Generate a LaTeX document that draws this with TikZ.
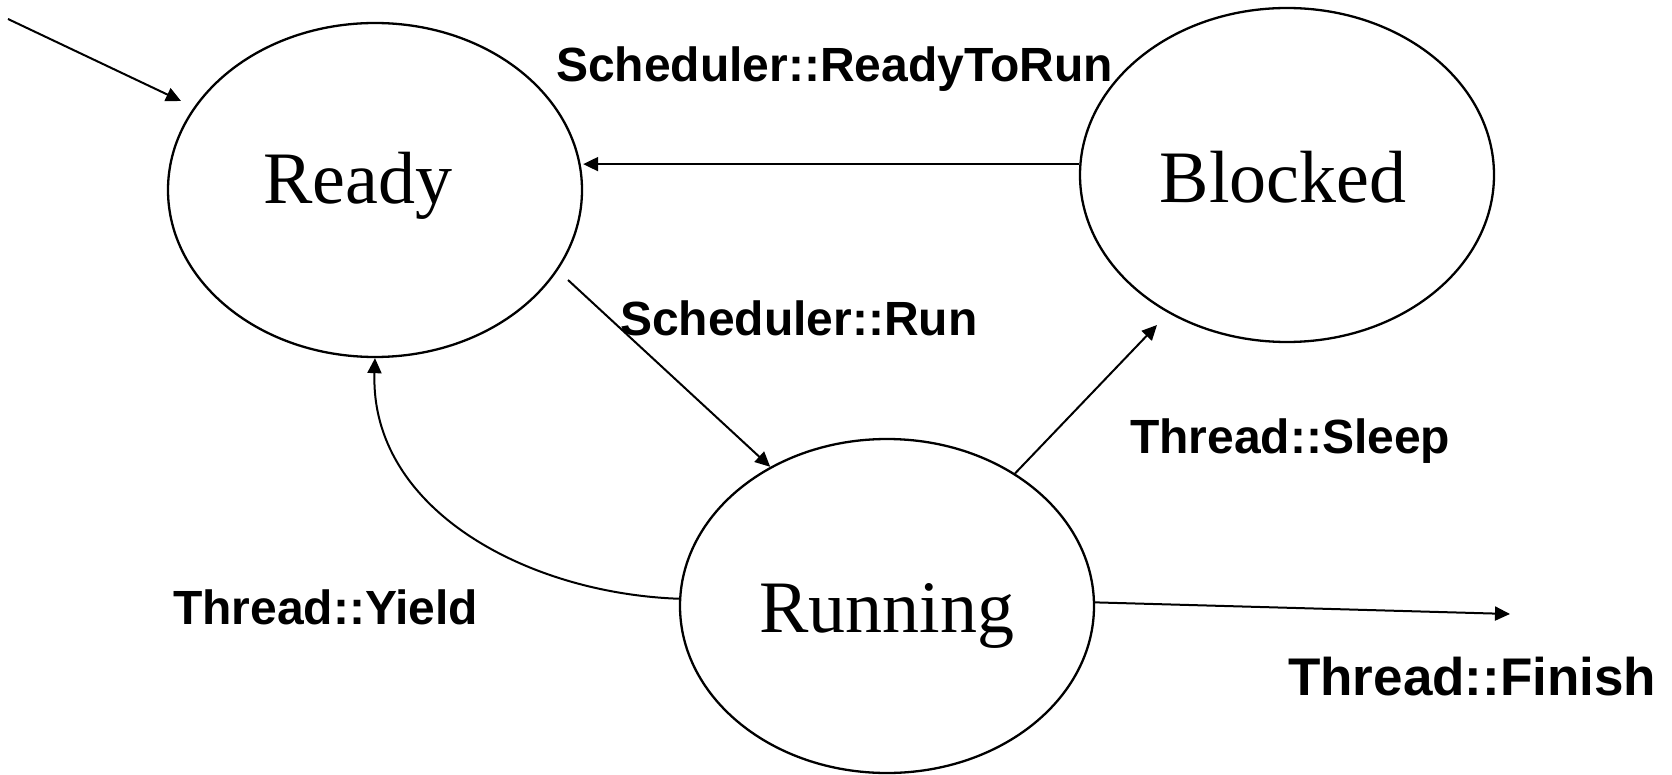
\documentclass[tikz,border=0pt]{standalone}
\usepackage{fontspec}
\setmainfont{Liberation Serif}
\newfontfamily\lblfont{Liberation Sans}
\usetikzlibrary{arrows.meta,shapes.geometric}
\begin{document}
\begin{tikzpicture}[x=1pt,y=-1pt,
  state/.style={draw, ellipse, line width=2.3pt, minimum width=414pt, minimum height=334pt, inner sep=0pt},
  statetext/.style={font=\fontsize{74}{80}\selectfont, inner sep=0pt},
  lbl/.style={font=\lblfont\bfseries\fontsize{48}{52}\selectfont, anchor=base west, inner sep=0pt},
  biglbl/.style={lbl, font=\lblfont\bfseries\fontsize{53}{58}\selectfont},
  conn/.style={line width=2pt, -{Triangle[length=15pt,width=14pt]}},
]
\useasboundingbox (0,0) rectangle (1672,775);

% states
\node[state] (Ready) at (375,190) {};
\node[statetext] (ReadyText) at (358,186) {Ready};
\node[state] (Blocked) at (1287,175) {};
\node[statetext] (BlockedText) at (1283,177) {Blocked};
\node[state] (Running) at (887,606) {};
\node[statetext] (RunningText) at (887,616) {Running};

% free ends
\coordinate (initStart) at (8,19);
\coordinate (initEnd) at (181,101);
\coordinate (runStart) at (568,280);
\coordinate (sleepEnd) at (1157,325);
\coordinate (finishEnd) at (1510,614);
\path (Blocked.177.5) coordinate (rtrStart);

% connectors
\draw[conn] (initStart) -- (initEnd);
\draw[conn] (rtrStart) -- (rtrStart -| Ready.east);
\draw[conn] (runStart) -- (Running.130);
\draw[conn] (Running.46) -- (sleepEnd);
\draw[conn] (Running.178) to[out=178,in=-92] (Ready.south);
\draw[conn] (Running.1.5) -- (finishEnd);

% labels
\node[lbl] (lblRTR) at (556,82) {Scheduler::ReadyToRun};
\node[lbl] (lblRun) at (620,336) {Scheduler::Run};
\node[lbl] (lblSleep) at (1130,453) {Thread::Sleep};
\node[lbl] (lblYield) at (173,624) {Thread::Yield};
\node[biglbl] (lblFinish) at (1288,695) {Thread::Finish};
\end{tikzpicture}
\end{document}
